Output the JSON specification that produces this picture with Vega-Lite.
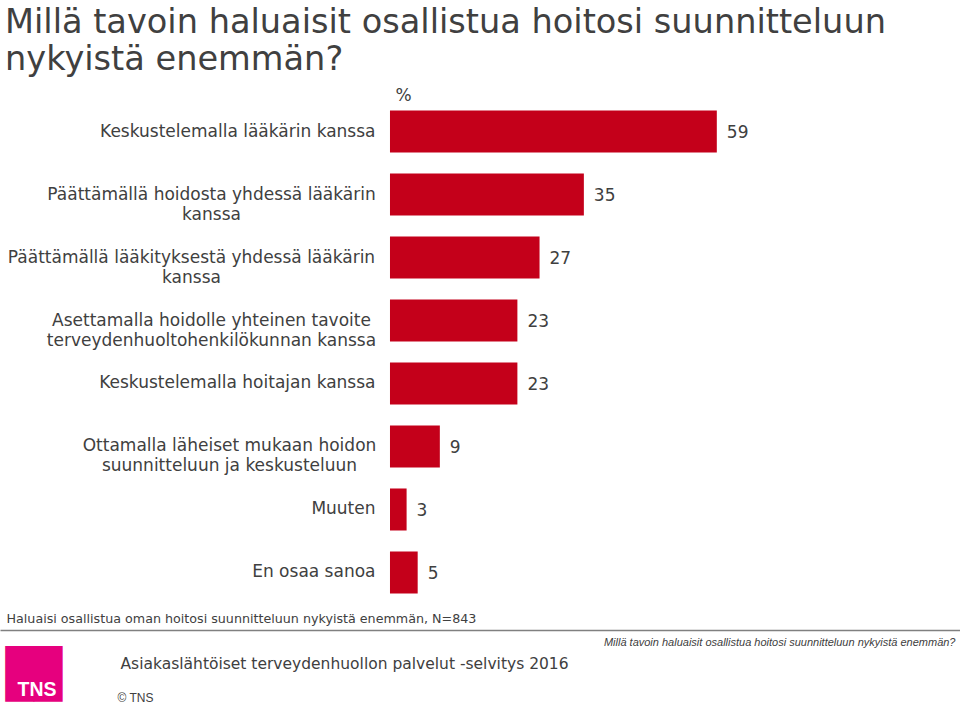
{
  "$schema": "https://vega.github.io/schema/vega-lite/v6.json",
  "width": 960,
  "height": 504,
  "autosize": {"type": "none"},
  "padding": {"left": 0, "right": 0, "top": 100, "bottom": 101},
  "background": "white",
  "config": {"view": {"stroke": null}, "axis": {"grid": false}, "font": "DejaVu Sans"},
  "title": {
    "text": ["Millä tavoin haluaisit osallistua hoitosi suunnitteluun", "nykyistä enemmän?"],
    "anchor": "start",
    "frame": "group",
    "fontSize": 33.6,
    "font": "DejaVu Sans",
    "fontWeight": "normal",
    "color": "#404040",
    "lineHeight": 37,
    "offset": 9,
    "dx": 5
  },
  "data": {
    "values": [
      {"label": "Keskustelemalla lääkärin kanssa", "value": 59},
      {"label": "Päättämällä hoidosta yhdessä lääkärin|kanssa", "value": 35},
      {"label": "Päättämällä lääkityksestä yhdessä lääkärin|kanssa", "value": 27},
      {"label": "Asettamalla hoidolle yhteinen tavoite|terveydenhuoltohenkilökunnan kanssa", "value": 23},
      {"label": "Keskustelemalla hoitajan kanssa", "value": 23},
      {"label": "Ottamalla läheiset mukaan hoidon|suunnitteluun ja keskusteluun", "value": 9},
      {"label": "Muuten", "value": 3},
      {"label": "En osaa sanoa", "value": 5}
    ]
  },
  "layer": [
    {
      "encoding": {
        "y": {
          "field": "label",
          "type": "nominal",
          "sort": null,
          "scale": {"paddingInner": 0.333, "paddingOuter": 0.1667},
          "axis": {
            "title": "%",
            "titleAngle": 0,
            "titleAlign": "left",
            "titleBaseline": "middle",
            "titleX": 10,
            "titleY": -5,
            "titleFontSize": 17,
            "titleFontWeight": "normal",
            "titleColor": "#404040",
            "titleFont": "DejaVu Sans",
            "offset": -385,
            "domain": false,
            "ticks": false,
            "tickSize": 0,
            "labelOverlap": false,
            "labelLimit": 600,
            "labelExpr": "split(datum.value, '|')",
            "labelFontSize": 17,
            "labelFont": "DejaVu Sans",
            "labelColor": "#404040",
            "labelLineHeight": 20,
            "labelBaseline": "middle",
            "labelAlign": {
              "condition": {"test": "indexof(datum.value, '|') >= 0", "value": "center"},
              "value": "right"
            },
            "labelPadding": {
              "condition": [
                {"test": "indexof(datum.value, 'hoidosta') >= 0", "value": 174},
                {"test": "indexof(datum.value, 'lääkityksestä') >= 0", "value": 194},
                {"test": "indexof(datum.value, 'Asettamalla') >= 0", "value": 174},
                {"test": "indexof(datum.value, 'Ottamalla') >= 0", "value": 156}
              ],
              "value": 10
            }
          }
        },
        "x": {
          "field": "value",
          "type": "quantitative",
          "scale": {"domain": [-70.4, 102.9], "nice": false},
          "axis": {
            "orient": "bottom",
            "offset": 26,
            "domain": true,
            "domainColor": "#808080",
            "domainWidth": 1.5,
            "labels": false,
            "ticks": false,
            "grid": false,
            "title": "Haluaisi osallistua oman hoitosi suunnitteluun nykyistä enemmän, N=843",
            "titleX": 6,
            "titleY": -12,
            "titleAlign": "left",
            "titleBaseline": "middle",
            "titleFontSize": 12.7,
            "titleFontWeight": "normal",
            "titleColor": "#404040",
            "titleFont": "DejaVu Sans"
          }
        }
      },
      "layer": [
        {"mark": {"type": "bar", "color": "#C4001A"}},
        {
          "mark": {"type": "text", "align": "left", "baseline": "middle", "dx": 10, "dy": 1.5, "fontSize": 17, "font": "DejaVu Sans", "color": "#404040"},
          "encoding": {"text": {"field": "value", "type": "quantitative"}}
        }
      ]
    },
    {
      "mark": {"type": "point", "opacity": 0},
      "encoding": {
        "x": {
          "field": "value",
          "type": "quantitative",
          "axis": {
            "orient": "bottom",
            "domain": false, "ticks": false, "labels": false, "grid": false,
            "title": "Asiakaslähtöiset terveydenhuollon palvelut -selvitys 2016",
            "titleX": 120, "titleY": 59, "titleAlign": "left", "titleBaseline": "middle",
            "titleFontSize": 15.5, "titleFontWeight": "normal", "titleColor": "#404040", "titleFont": "DejaVu Sans"
          }
        },
        "y": {
          "field": "label",
          "type": "nominal",
          "axis": {
            "orient": "right",
            "domain": false, "ticks": false, "labels": false, "grid": false,
            "title": "© TNS",
            "titleAngle": 0,
            "titleX": -843, "titleY": 597, "titleAlign": "left", "titleBaseline": "middle",
            "titleFontSize": 12, "titleFontWeight": "normal", "titleColor": "#404040", "titleFont": "Liberation Sans"
          }
        }
      }
    },
    {
      "mark": {"type": "point", "opacity": 0},
      "encoding": {
        "x": {
          "field": "value",
          "type": "quantitative",
          "axis": {
            "orient": "bottom",
            "domain": false, "ticks": false, "labels": false, "grid": false,
            "title": "Millä tavoin haluaisit osallistua hoitosi suunnitteluun nykyistä enemmän?",
            "titleX": 955, "titleY": 38, "titleAlign": "right", "titleBaseline": "middle",
            "titleFontSize": 11, "titleFontWeight": "normal", "titleFontStyle": "italic", "titleColor": "#404040", "titleFont": "Liberation Sans"
          }
        },
        "y": {
          "field": "label",
          "type": "nominal",
          "axis": {
            "orient": "right",
            "domain": false, "ticks": false, "labels": false, "grid": false,
            "title": "██",
            "titleAngle": 0,
            "titleX": -955, "titleY": 589, "titleAlign": "left", "titleBaseline": "alphabetic",
            "titleFontSize": 47, "titleFontWeight": "normal", "titleColor": "#E6007E", "titleFont": "DejaVu Sans Mono"
          }
        }
      }
    },
    {
      "mark": {"type": "point", "opacity": 0},
      "encoding": {
        "x": {
          "field": "value",
          "type": "quantitative",
          "axis": {
            "orient": "bottom",
            "zindex": 2,
            "domain": false, "ticks": false, "labels": false, "grid": false,
            "title": "TNS",
            "titleX": 17, "titleY": 91, "titleAlign": "left", "titleBaseline": "alphabetic",
            "titleFontSize": 19.5, "titleFontWeight": "bold", "titleColor": "white", "titleFont": "Liberation Sans"
          }
        },
        "y": {"field": "label", "type": "nominal", "axis": null}
      }
    }
  ],
  "resolve": {"scale": {"x": "independent", "y": "independent"}}
}
